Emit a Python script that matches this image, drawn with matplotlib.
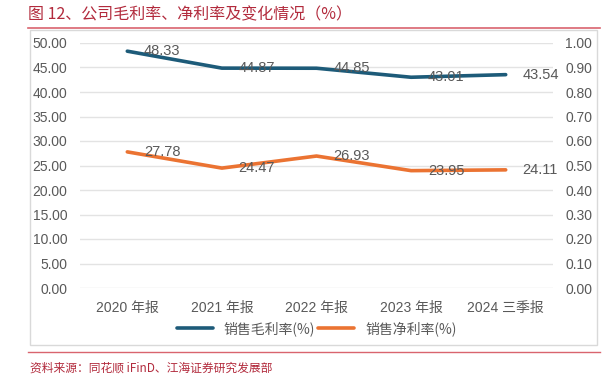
import matplotlib.pyplot as plt
from matplotlib.patches import Rectangle
from matplotlib.lines import Line2D

plt.rcParams['font.family'] = ['Liberation Sans', 'Noto Sans CJK SC', 'DejaVu Sans']

periods = ["2020 年报", "2021 年报", "2022 年报", "2023 年报", "2024 三季报"]
gross_margin = [48.33, 44.87, 44.85, 43.01, 43.54]
net_margin = [27.78, 24.47, 26.93, 23.95, 24.11]

blue = "#1D5B79"
orange = "#EB7332"
grey_txt = "#595959"
red = "#B22A3C"

fig = plt.figure(figsize=(6.1, 3.75), dpi=100)

# outer frame and red rules
fig.add_artist(Rectangle((30 / 610, 1 - 345 / 375), 567 / 610, 315 / 375,
                         transform=fig.transFigure, fill=False,
                         edgecolor="#D9D9D9", linewidth=1.0))
fig.add_artist(Line2D([28 / 610, 600 / 610], [1 - 28 / 375] * 2,
                      transform=fig.transFigure, color="#D9646E", linewidth=1.2))
fig.add_artist(Line2D([28 / 610, 600 / 610], [1 - 352 / 375] * 2,
                      transform=fig.transFigure, color="#D9646E", linewidth=1.0))
fig.text(28 / 610, 1 - 15 / 375, "图 12、公司毛利率、净利率及变化情况（%）",
         fontsize=11.5, color=red, va="center", ha="left",
         family=['Noto Sans CJK SC', 'DejaVu Sans'])
fig.text(30 / 610, 1 - 368 / 375, "资料来源：同花顺 iFinD、江海证券研究发展部",
         fontsize=8.5, color=red, va="center", ha="left",
         family=['Noto Sans CJK SC', 'DejaVu Sans'])

ax = fig.add_axes([80 / 610, 1 - 288 / 375, 473 / 610, 245 / 375])
x = list(range(len(periods)))
ax.plot(x, gross_margin, color=blue, linewidth=2.6, solid_capstyle="round",
        label="销售毛利率(%)")
ax.plot(x, net_margin, color=orange, linewidth=2.6, solid_capstyle="round",
        label="销售净利率(%)")

for xi, v in zip(x, gross_margin):
    ax.annotate(f"{v:.2f}", (xi, v), xytext=(12, 0), textcoords="offset points",
                ha="left", va="center", fontsize=10.5, color=grey_txt)
for xi, v in zip(x, net_margin):
    ax.annotate(f"{v:.2f}", (xi, v), xytext=(12, 0), textcoords="offset points",
                ha="left", va="center", fontsize=10.5, color=grey_txt)

ax.set_xlim(-0.5, len(periods) - 0.5)
ax.set_ylim(0, 50)
ax.set_yticks([i * 5 for i in range(11)])
ax.set_yticklabels([f"{i * 5:.2f}" for i in range(11)])
ax.set_xticks(x)
ax.set_xticklabels(periods)
ax.yaxis.grid(True, color="#E3E3E3", linewidth=1.0)
ax.set_axisbelow(True)
for s in ax.spines.values():
    s.set_visible(False)
ax.tick_params(axis="both", length=0, labelsize=10, labelcolor=grey_txt)
ax.tick_params(axis="y", pad=9)
ax.tick_params(axis="x", pad=9)

ax2 = ax.twinx()
ax2.set_ylim(0, 1)
ax2.set_yticks([i / 10 for i in range(11)])
ax2.set_yticklabels([f"{i / 10:.2f}" for i in range(11)])
for s in ax2.spines.values():
    s.set_visible(False)
ax2.tick_params(axis="y", length=0, labelsize=10, labelcolor=grey_txt, pad=9)

leg = ax.legend(loc="upper center", bbox_to_anchor=(0.5, -0.085), ncol=2,
                frameon=False, fontsize=10, handlelength=2.6, columnspacing=0.2,
                handletextpad=0.8)
for t in leg.get_texts():
    t.set_color(grey_txt)
    t.set_family(['Noto Sans CJK SC', 'DejaVu Sans'])

fig.savefig("out.png", dpi=100)
